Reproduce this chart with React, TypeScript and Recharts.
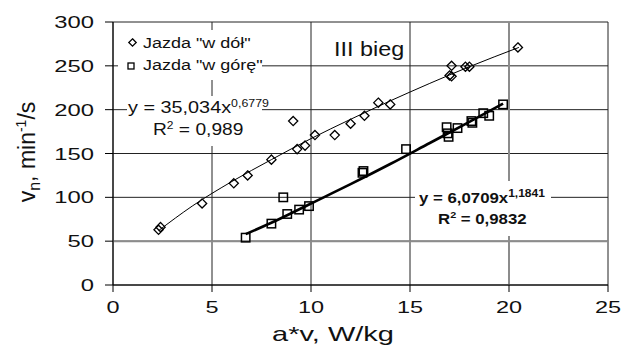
import React from "react";
import { ScatterChart, Scatter, XAxis, YAxis, CartesianGrid, ReferenceLine } from "recharts";

// Jazda "w dół" (downhill) – measured points
const downX = [2.3, 2.4, 4.5, 6.1, 6.8, 8.0, 9.1, 9.3, 9.7, 10.2, 11.2, 12.0, 12.7, 13.4, 14.0, 17.0, 17.1, 17.1, 17.8, 18.0, 20.45];
const downY = [63, 66, 93, 116, 125, 143, 187, 155, 159, 171, 171, 184, 193, 208, 206, 239, 238, 250, 249, 249, 271];

// Jazda "w górę" (uphill) – measured points
const upX = [6.7, 8.0, 8.6, 8.8, 9.4, 9.9, 12.6, 12.65, 14.8, 16.85, 16.9, 16.95, 17.4, 18.1, 18.15, 18.7, 19.0, 19.7];
const upY = [54, 70, 100, 81, 86, 90, 128, 130, 155, 180, 173, 169, 179, 187, 185, 196, 193, 206];

// trend lines
const downTrendX = [2.3, 4, 6, 8, 10, 12, 14, 16, 18, 20.5];
const downTrendY = [62, 90, 118, 143, 167, 189, 210, 230, 249, 271];
const upTrendX = [6.7, 8, 10, 12, 14, 16, 18, 19.7];
const upTrendY = [58, 71, 93, 115, 138, 162, 186, 207];

const xTicks = [0, 5, 10, 15, 20, 25];
const yTicks = [0, 50, 100, 150, 200, 250, 300];

const zip = (xs: number[], ys: number[]) => xs.map((x, i) => ({ x, y: ys[i] }));

const FONT = "'Liberation Sans', Arial, sans-serif";

const Diamond = (p: any) => {
  const { cx, cy } = p;
  const r = 4.6;
  return (
    <polygon
      points={`${cx},${cy - r} ${cx + r},${cy} ${cx},${cy + r} ${cx - r},${cy}`}
      fill="none"
      stroke="#000"
      strokeWidth={1.3}
    />
  );
};

const Square = (p: any) => {
  const { cx, cy } = p;
  const h = 4.2;
  return <rect x={cx - h} y={cy - h} width={2 * h} height={2 * h} fill="none" stroke="#000" strokeWidth={1.5} />;
};

const NoDot = () => <g />;

const XTick = (p: any) => (
  <text
    transform={`translate(${p.x},${p.y + 19}) scale(1.38,1)`}
    textAnchor="middle"
    fontSize={17}
    fontFamily={FONT}
    fill="#111"
  >
    {p.payload.value}
  </text>
);

const YTick = (p: any) => (
  <text
    transform={`translate(${p.x - 9},${p.y + 6}) scale(1.4,1)`}
    textAnchor="end"
    fontSize={17}
    fontFamily={FONT}
    fill="#111"
  >
    {p.payload.value}
  </text>
);

export default function App() {
  return (
    <div style={{ position: "absolute", left: 0, top: 0, width: 621, height: 351, background: "#fff" }}>
      <ScatterChart width={621} height={351} margin={{ top: 22, right: 13, bottom: 0, left: 0 }}>
        <CartesianGrid stroke="#222" strokeWidth={1} />
        <XAxis
          type="number"
          dataKey="x"
          domain={[0, 25]}
          ticks={xTicks}
          height={66}
          tickSize={7}
          axisLine={{ stroke: "#000" }}
          tickLine={{ stroke: "#000" }}
          tick={<XTick />}
          allowDataOverflow
        />
        <YAxis
          type="number"
          dataKey="y"
          domain={[0, 300]}
          ticks={yTicks}
          width={113}
          tickSize={8}
          axisLine={{ stroke: "#000" }}
          tickLine={{ stroke: "#000" }}
          tick={<YTick />}
          allowDataOverflow
        />
        <ReferenceLine y={50} stroke="#8c8c8c" strokeWidth={2} />
        <ReferenceLine x={20} stroke="#8c8c8c" strokeWidth={2} />
        <Scatter
          data={zip(downTrendX, downTrendY)}
          line={{ stroke: "#000", strokeWidth: 1 }}
          lineJointType="monotoneX"
          shape={NoDot}
          isAnimationActive={false}
        />
        <Scatter
          data={zip(upTrendX, upTrendY)}
          line={{ stroke: "#000", strokeWidth: 2.6 }}
          lineJointType="monotoneX"
          shape={NoDot}
          isAnimationActive={false}
        />
        <Scatter data={zip(downX, downY)} shape={Diamond} isAnimationActive={false} />
        <Scatter data={zip(upX, upY)} shape={Square} isAnimationActive={false} />
      </ScatterChart>

      <svg
        width={621}
        height={351}
        style={{ position: "absolute", left: 0, top: 0, pointerEvents: "none" }}
        fontFamily={FONT}
      >
        {/* white label boxes */}
        <rect x={118} y={30} width={144} height={50} fill="#fff" />
        <rect x={127} y={96} width={135} height={50} fill="#fff" />
        <rect x={320} y={30} width={87} height={32} fill="#fff" />
        <rect x={415} y={181} width={136} height={55} fill="#fff" />

        {/* legend */}
        <polygon points="132.5,38.8 136.2,42.5 132.5,46.2 128.8,42.5" fill="none" stroke="#000" strokeWidth={1.3} />
        <text transform="translate(143,48) scale(1.2,1)" fontSize={15} fill="#111">
          Jazda "w dół"
        </text>
        <rect x={128} y={63} width={6} height={6} fill="none" stroke="#000" strokeWidth={1.3} />
        <text transform="translate(143,70) scale(1.2,1)" fontSize={15} fill="#111">
          Jazda "w górę"
        </text>

        <text transform="translate(334,56) scale(1.17,1)" fontSize={20} fill="#111">
          III bieg
        </text>

        {/* downhill fit */}
        <text transform="translate(128,113) scale(1.24,1)" fontSize={16} fill="#111">
          y = 35,034x<tspan fontSize={10} dy={-6}>0,6779</tspan>
        </text>
        <text transform="translate(153,135) scale(1.2,1)" fontSize={16} fill="#111">
          R<tspan fontSize={10} dy={-6}>2</tspan>
          <tspan dy={6}> = 0,989</tspan>
        </text>

        {/* uphill fit */}
        <text transform="translate(419,203) scale(1.2,1)" fontSize={14} fontWeight="bold" fill="#111">
          y = 6,0709x<tspan fontSize={10} dy={-6}>1,1841</tspan>
        </text>
        <text transform="translate(438,224) scale(1.2,1)" fontSize={14} fontWeight="bold" fill="#111">
          R<tspan fontSize={9} dy={-6}>2</tspan>
          <tspan dy={6}> = 0,9832</tspan>
        </text>

        {/* axis titles */}
        <text transform="translate(333,341) scale(1.45,1)" textAnchor="middle" fontSize={20} fill="#111">
          a*v, W/kg
        </text>
        <text transform="translate(35,152) rotate(-90)" textAnchor="middle" fontSize={23} fill="#111">
          v<tspan fontSize={16} dy={5}>n</tspan>
          <tspan dy={-5}>, min</tspan>
          <tspan fontSize={14} dy={-9}>-1</tspan>
          <tspan dy={9}>/s</tspan>
        </text>
      </svg>
    </div>
  );
}
